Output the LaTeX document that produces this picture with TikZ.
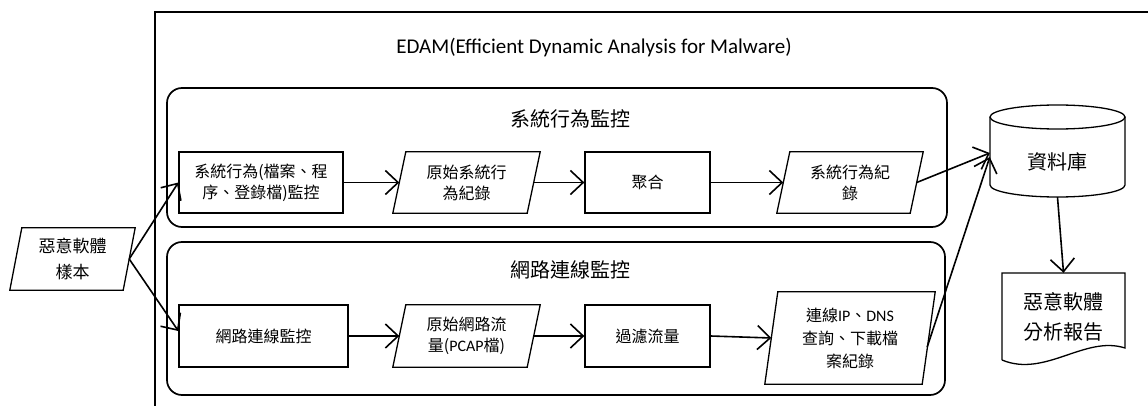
\documentclass[tikz,border=0pt]{standalone}
\usepackage{fontspec}
\setmainfont{Carlito}
\newfontfamily\cjk{Noto Sans CJK TC}
\newfontfamily\latf{Carlito}
\usetikzlibrary{arrows.meta}
\tikzset{
  lbl/.style={font=\cjk\fontsize{16}{21}\selectfont, align=center, inner sep=0pt},
  box/.style={lbl, draw, line width=1.3pt, minimum height=61pt},
  pbox/.style={lbl, minimum height=61pt},
  grp/.style={draw, line width=1.7pt, rounded corners=15pt, inner sep=0pt},
  grptitle/.style={font=\cjk\fontsize{20}{24}\selectfont, inner sep=0pt},
  arr/.style={line width=1.6pt, -{Straight Barb[length=8pt,width=15pt,line width=1.6pt,scale=1.6]}},
  outl/.style={line width=1.3pt},
}
\newcommand{\drawpara}[2]{\draw[outl] ([xshift=#2]#1.north west) -- (#1.north east) -- ([xshift=-#2]#1.south east) -- (#1.south west) -- cycle;}
\begin{document}
\begin{tikzpicture}[x=1pt,y=-1pt]
\useasboundingbox[fill=white] (0,0) rectangle (1148,406);
% outer frame
\coordinate (fbl) at (155,406);
\coordinate (ftl) at (155,12);
\coordinate (ftr) at (1148,12);
\draw[line width=1.8pt] (fbl) -- (ftl) -- (ftr);
\node[font=\fontsize{21}{24}\selectfont, inner sep=0pt] (title) at (594,48) {EDAM(Efficient Dynamic Analysis for Malware)};
% groups
\node[grp, minimum width=780pt, minimum height=139pt] (g1) at (557,157.5) {};
\node[grp, minimum width=778pt, minimum height=153pt] (g2) at (556,318.5) {};
\node[grptitle] (g1t) at (570,119) {系統行為監控};
\node[grptitle] (g2t) at (570,270) {網路連線監控};
% upper row
\node[box, minimum width=164pt] (u1) at (261,182.5) {系統行為(檔案、程\\序、登錄檔)監控};
\node[pbox, minimum width=147pt] (u2) at (466.5,182.5) {原始系統行\\為紀錄};
\node[box, minimum width=125pt] (u3) at (647.5,182.5) {聚合};
\node[pbox, minimum width=146pt] (u4) at (850,182.5) {系統行為紀\\錄};
\drawpara{u2}{13pt}
\drawpara{u4}{13pt}
% lower row
\node[box, minimum width=169pt, minimum height=62pt] (l1) at (263.5,336) {網路連線監控};
\node[pbox, minimum width=147pt, minimum height=62pt] (l2) at (466.5,336) {原始網路流\\量({\latf PCAP}檔)};
\node[box, minimum width=125pt, minimum height=62pt] (l3) at (647.5,336) {過濾流量};
\node[pbox, minimum width=170pt, minimum height=92pt, font=\cjk\fontsize{16}{23}\selectfont] (l4) at (850,338) {連線{\latf IP}、{\latf DNS}\\查詢、下載檔\\案紀錄};
\drawpara{l2}{13pt}
\drawpara{l4}{13pt}
% sample
\node[pbox, minimum width=125pt, minimum height=62pt, font=\cjk\fontsize{17}{26}\selectfont] (s) at (72.5,259) {惡意軟體\\樣本};
\drawpara{s}{12pt}
% database
\node[inner sep=0pt, minimum width=135pt, minimum height=70pt, font=\cjk\fontsize{20}{24}\selectfont] (db) at (1057.5,162) {資料庫};
\draw[outl] (1057.5,117) ellipse [x radius=67.5pt, y radius=12pt];
\draw[outl] (990,117) -- (990,185) arc[start angle=180, end angle=360, x radius=67.5pt, y radius=12pt] -- (1125,117);
% report
\node[inner sep=0pt, minimum width=123pt, minimum height=87pt, align=center, font=\cjk\fontsize{20}{30}\selectfont] (doc) at (1063.5,316.5) {惡意軟體\\分析報告};
\draw[outl] (1002,360) -- (1002,273) -- (1125,273) -- (1125,348) .. controls (1085,335) and (1045,378) .. (1002,360);
% connectors
\draw[arr] ([xshift=-6pt]s.east) -- (u1.west);
\draw[arr] ([xshift=-6pt]s.east) -- ([yshift=5pt]l1.west);
\draw[arr] (u1.east) -- ([xshift=6.5pt]u2.west);
\draw[arr] ([xshift=-6.5pt]u2.east) -- (u3.west);
\draw[arr] (u3.east) -- ([xshift=6.5pt]u4.west);
\draw[arr] (l1.east) -- ([xshift=6.5pt]l2.west);
\draw[arr] ([xshift=-6.5pt]l2.east) -- (l3.west);
\draw[arr] (l3.east) -- ([xshift=6.5pt]l4.west);
\draw[arr] ([xshift=-6.5pt]u4.east) -- ([yshift=9pt]db.west);
\draw[arr] ([xshift=-8pt,yshift=-9pt]l4.east) -- ([yshift=5pt]db.west);
\draw[arr] (db.south) -- (doc.north);
\end{tikzpicture}
\end{document}
